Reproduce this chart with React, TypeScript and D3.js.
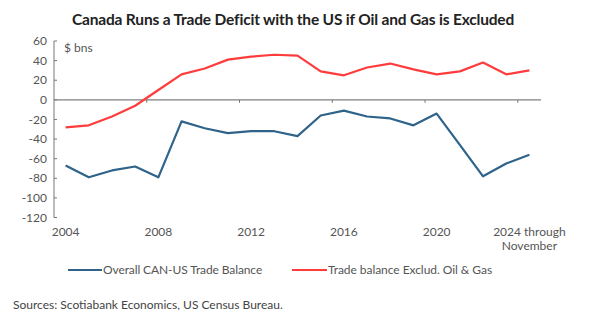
import React from "react";
import * as d3 from "d3";

const years = d3.range(2004, 2025).map(String);
const overall = [-67, -79, -72, -68, -79, -22, -29, -34, -32, -32, -37, -16, -11, -17, -19, -26, -14, -46, -78, -65, -56];
const exclOilGas = [-28, -26, -17, -6, 10, 26, 32, 41, 44, 46, 45, 29, 25, 33, 37, 31, 26, 29, 38, 26, 30];
const yTicks = [60, 40, 20, 0, -20, -40, -60, -80, -100, -120];
const xLabelYears = ["2004", "2008", "2012", "2016", "2020"];
const title = "Canada Runs a Trade Deficit with the US if Oil and Gas is Excluded";
const seriesNames = ["Overall CAN-US Trade Balance", "Trade balance Exclud. Oil & Gas"];
const source = "Sources: Scotiabank Economics, US Census Bureau.";

const W = 602, H = 329;
const left = 54, right = 541, top = 41, bottom = 217.5;
const BLUE = "#2f6389";
const RED = "#ff3c3c";
const FONT = "Lato, 'Open Sans', sans-serif";

export default function App() {
  const x = d3.scaleBand<string>().domain(years).range([left, right]);
  const y = d3.scaleLinear().domain([-120, 60]).range([bottom, top]);
  const cx = (yr: string) => (x(yr) as number) + x.bandwidth() / 2;
  const line = d3.line<number>().x((_, i) => cx(years[i])).y((d) => y(d));
  const boundaryTicks = ["2008", "2012", "2016", "2020", "2024"];

  return (
    <svg width={W} height={H} style={{ position: "absolute", left: 0, top: 0, background: "#fff" }}>
      <text x={293} y={25} textAnchor="middle" fontFamily={FONT} fontWeight={700} fontSize={15.5} fill="#222" letterSpacing={-0.18}>
        {title}
      </text>
      {/* y axis */}
      <line x1={left} x2={left} y1={y(60)} y2={y(-120)} stroke="#777" strokeWidth={1} />
      {yTicks.map((t) => (
        <g key={t}>
          <line x1={left} x2={left + 3} y1={y(t)} y2={y(t)} stroke="#777" />
          <text x={left - 7} y={y(t)} dy="0.35em" textAnchor="end" fontFamily={FONT} fontSize={12} fill="#555">
            {t}
          </text>
        </g>
      ))}
      <text x={64} y={52} fontFamily={FONT} fontSize={12} fill="#555">$ bns</text>
      {/* zero axis */}
      <line x1={left} x2={right} y1={y(0)} y2={y(0)} stroke="#808080" strokeWidth={1.2} />
      {boundaryTicks.map((yr) => (
        <line key={yr} x1={x(yr) as number} x2={x(yr) as number} y1={y(0)} y2={y(0) + 3} stroke="#777" />
      ))}
      {xLabelYears.map((yr) => (
        <text key={yr} x={cx(yr)} y={236} textAnchor="middle" fontFamily={FONT} fontSize={12} fill="#555">
          {yr}
        </text>
      ))}
      <text x={cx("2024")} y={236} textAnchor="middle" fontFamily={FONT} fontSize={12} fill="#555">2024 through</text>
      <text x={cx("2024")} y={250} textAnchor="middle" fontFamily={FONT} fontSize={12} fill="#555">November</text>
      {/* lines */}
      <path d={line(overall) || ""} fill="none" stroke={BLUE} strokeWidth={2.2} strokeLinejoin="round" />
      <path d={line(exclOilGas) || ""} fill="none" stroke={RED} strokeWidth={2.2} strokeLinejoin="round" />
      {/* legend */}
      <line x1={68} x2={102} y1={270} y2={270} stroke={BLUE} strokeWidth={2.2} />
      <text x={103} y={270} dy="0.35em" fontFamily={FONT} fontSize={12} fill="#555" letterSpacing={-0.1}>{seriesNames[0]}</text>
      <line x1={292} x2={327} y1={270} y2={270} stroke={RED} strokeWidth={2.2} />
      <text x={328} y={270} dy="0.35em" fontFamily={FONT} fontSize={12} fill="#555" letterSpacing={-0.05}>{seriesNames[1]}</text>
      <text x={13} y={305} dy="0.35em" fontFamily={FONT} fontSize={12} fill="#444" letterSpacing={0}>{source}</text>
    </svg>
  );
}
